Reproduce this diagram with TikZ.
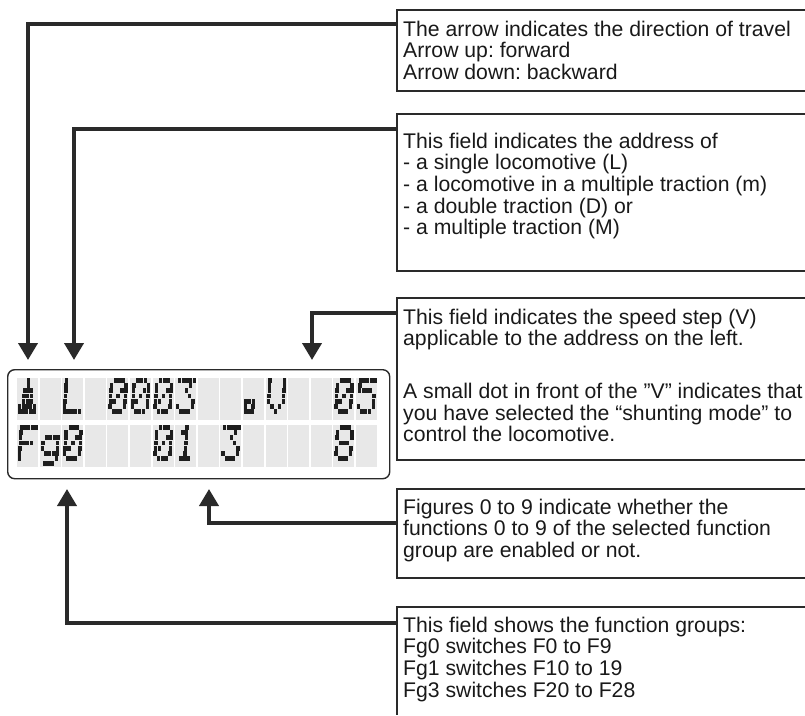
\documentclass[tikz,border=0pt]{standalone}
\usepackage{fontspec}
\setmainfont{Liberation Sans}
\usetikzlibrary{arrows.meta, positioning, calc}
\frenchspacing

\definecolor{ink}{RGB}{42,42,42}
\definecolor{cellgrey}{RGB}{232,232,232}
\definecolor{pixel}{RGB}{30,30,30}

\newcommand{\notefont}{\fontsize{21.2}{21.6}\selectfont}
\newcommand{\firstline}[1][25pt]{\rule{0pt}{#1}}

% one character of the display: column, top of the row, rows as 5-bit numbers
\newcommand{\lcdglyph}[3]{%
  \foreach \bits [count=\r from 0] in #3 {
    \foreach \k in {0,...,4} {
      \pgfmathtruncatemacro{\on}{mod(floor(\bits/2^(4-\k)),2)}
      \ifnum\on=1
        \fill[pixel] ({17+22.6*#1+0.5+3.7*\k+(6-\r)*0.35}, {#2+5.2*\r}) rectangle ++(3.4,4.7);
      \fi
    }
  }%
}

% dot patterns
\newcommand{\glyphUp}{4,4,14,14,14,31,31}
\newcommand{\glyphL}{16,16,16,16,16,16,31}
\newcommand{\glyphZero}{14,17,19,21,25,17,14}
\newcommand{\glyphOne}{4,12,4,4,4,4,14}
\newcommand{\glyphThree}{31,2,4,2,1,17,14}
\newcommand{\glyphFive}{31,16,30,1,1,17,14}
\newcommand{\glyphEight}{14,17,17,14,17,17,14}
\newcommand{\glyphDot}{0,0,0,0,28,20,28}
\newcommand{\glyphV}{17,17,17,17,17,10,4}
\newcommand{\glyphF}{31,16,16,30,16,16,16}
\newcommand{\glyphG}{0,0,15,17,17,15,1,14}

\begin{document}
\begin{tikzpicture}[x=1pt, y=-1pt,
    notebox/.style={anchor=north west, inner xsep=6pt, inner ysep=0pt,
                    align=left, font=\notefont, text=black!90},
    noteframe/.style={draw=ink, line width=1.4pt},
    conn/.style={draw=ink, line width=4pt, -{Triangle[width=19pt,length=17pt]}},
    lcd/.style={draw=ink, line width=1.4pt, rounded corners=7pt, inner sep=0pt},
    lcdcell/.style={fill=cellgrey}]
    \useasboundingbox (0,0) rectangle (805,715);
    \coordinate (rim) at (805,0);
    \coordinate (low) at (0,715);

    % LCD display
    \foreach \ytop in {378,425}
        \foreach \c in {0,...,15}
            \fill[lcdcell] ({17+22.6*\c},\ytop) rectangle ++(21,42);
    \node[lcd, minimum width=382pt, minimum height=109pt, anchor=north west] (lcd) at (7,369) {};

    % first line: direction, address, speed
    \lcdglyph{0}{378}{\glyphUp}
    \lcdglyph{2}{378}{\glyphL}
    \lcdglyph{4}{378}{\glyphZero}
    \lcdglyph{5}{378}{\glyphZero}
    \lcdglyph{6}{378}{\glyphZero}
    \lcdglyph{7}{378}{\glyphThree}
    \lcdglyph{10}{378}{\glyphDot}
    \lcdglyph{11}{378}{\glyphV}
    \lcdglyph{14}{378}{\glyphZero}
    \lcdglyph{15}{378}{\glyphFive}

    % second line: function group and functions
    \lcdglyph{0}{425}{\glyphF}
    \lcdglyph{1}{425}{\glyphG}
    \lcdglyph{2}{425}{\glyphZero}
    \lcdglyph{6}{425}{\glyphZero}
    \lcdglyph{7}{425}{\glyphOne}
    \lcdglyph{9}{425}{\glyphThree}
    \lcdglyph{14}{425}{\glyphEight}

    % explanation boxes
    \node[notebox] (dir) at (397,10) {\firstline[26pt]The arrow indicates the direction of travel\\
        Arrow up: forward\\ Arrow down: backward};
    \node[notebox] (addr) at (397,114) {\firstline[34pt]This field indicates the address of\\
        - a single locomotive (L)\\ - a locomotive in a multiple traction (m)\\
        - a double traction (D) or\\ - a multiple traction (M)};
    \node[notebox] (speed) at (397,298) {\firstline[26pt]This field indicates the speed step (V)\\
        applicable to the address on the left.\\[31pt]
        A small dot in front of the ”V” indicates that\\
        you have selected the “shunting mode” to\\ control the locomotive.};
    \node[notebox] (func) at (397,489) {\firstline Figures 0 to 9 indicate whether the\\
        functions 0 to 9 of the selected function\\ group are enabled or not.};
    \node[notebox] (group) at (397,607) {\firstline This field shows the function groups:\\
        Fg0 switches F0 to F9\\ Fg1 switches F10 to 19\\ Fg3 switches F20 to F28};

    % box outlines, open to the right
    \draw[noteframe] (dir.north west -| rim) -- (dir.north west) -- ++(0,81) -- ++(408,0);
    \draw[noteframe] (addr.north west -| rim) -- (addr.north west) -- ++(0,157) -- ++(408,0);
    \draw[noteframe] (speed.north west -| rim) -- (speed.north west) -- ++(0,162) -- ++(408,0);
    \draw[noteframe] (func.north west -| rim) -- (func.north west) -- ++(0,89) -- ++(408,0);
    \draw[noteframe] (group.north west -| rim) -- (group.north west) -- (group.north west |- low);

    % arrow targets on the display
    \coordinate (tDir) at (28,360);
    \coordinate (tAddr) at (74,360);
    \coordinate (tSpeed) at (312,360);
    \coordinate (tFunc) at (209,489);
    \coordinate (tGroup) at (67,489);

    % connectors
    \draw[conn] ([yshift=-14pt]dir.north west) -| (tDir);
    \draw[conn] ([yshift=-15pt]addr.north west) -| (tAddr);
    \draw[conn] ([yshift=-15pt]speed.north west) -| (tSpeed);
    \draw[conn] ([yshift=-34pt]func.north west) -| (tFunc);
    \draw[conn] ([yshift=-16pt]group.north west) -| (tGroup);
\end{tikzpicture}
\end{document}
